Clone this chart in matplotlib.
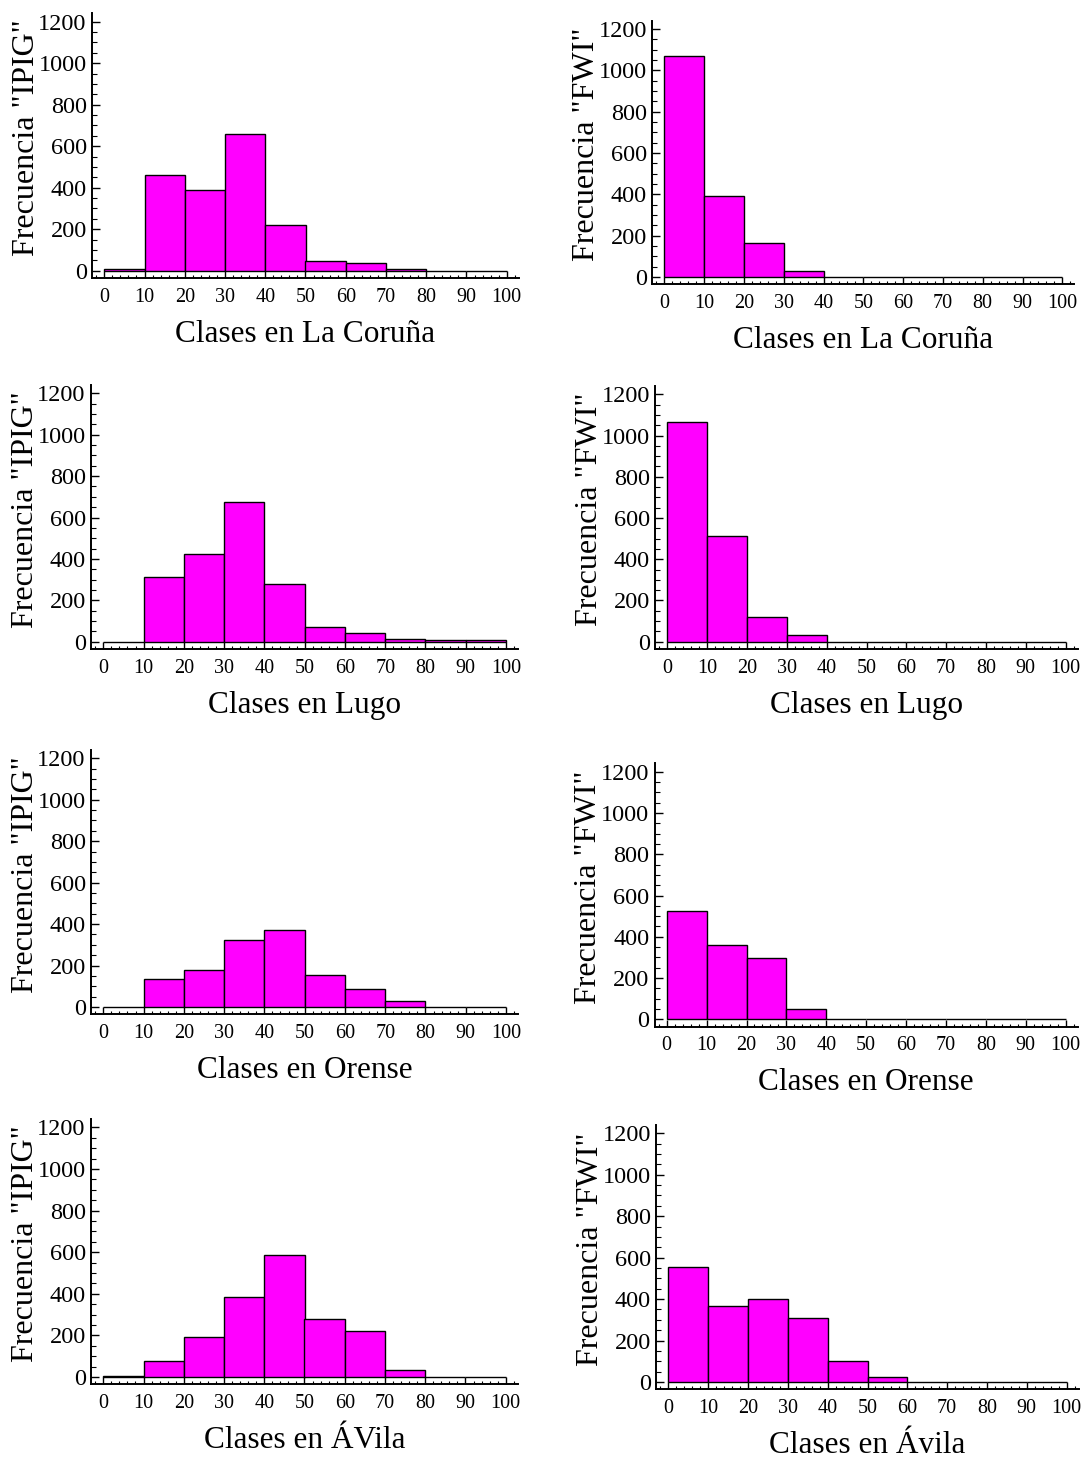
import numpy as np
import matplotlib.pyplot as plt
from matplotlib.ticker import MultipleLocator

plt.rcParams['font.family'] = 'Liberation Serif'

# ------------------------------
# Data: frequency per class (10 classes of width 10, 0..100)
# ------------------------------
bin_edges = np.arange(0, 101, 10)

ipig_coruna = [8, 461, 387, 660, 222, 48, 36, 10, 0, 0]
fwi_coruna = [1068, 390, 166, 30, 0, 0, 0, 0, 0, 0]

ipig_lugo = [0, 314, 424, 675, 280, 71, 40, 13, 8, 8]
fwi_lugo = [1067, 513, 120, 34, 0, 0, 0, 0, 0, 0]

ipig_orense = [0, 135, 179, 322, 372, 156, 85, 27, 0, 0]
fwi_orense = [527, 362, 296, 52, 0, 0, 0, 0, 0, 0]

ipig_avila = [6, 79, 192, 386, 587, 279, 221, 35, 0, 0]
fwi_avila = [557, 367, 402, 310, 103, 23, 0, 0, 0, 0]

places = ["La Coruña", "Lugo", "Orense", "ÁVila"]
places_fwi = ["La Coruña", "Lugo", "Orense", "Ávila"]
ipig_data = [ipig_coruna, ipig_lugo, ipig_orense, ipig_avila]
fwi_data = [fwi_coruna, fwi_lugo, fwi_orense, fwi_avila]

# ------------------------------
# Layout (pixel positions of x=0, x=100, y=0, y=1200 per panel)
# ------------------------------
W, H = 1088, 1461
left_panels = [
    (104.3, 506.7, 270.7, 21.7),
    (103.3, 506.0, 641.7, 393.3),
    (103.3, 506.0, 1007.0, 758.3),
    (103.3, 505.7, 1377.0, 1127.3),
]
right_panels = [
    (664.3, 1062.3, 277.0, 29.0),
    (667.3, 1065.7, 641.7, 394.3),
    (666.7, 1065.7, 1019.3, 771.7),
    (668.3, 1066.7, 1382.0, 1133.3),
]

X_LO, X_HI = -3, 103
Y_LO, Y_HI = -36, 1240
BAR_COLOR = '#ff00ff'

fig = plt.figure(figsize=(W / 100, H / 100), dpi=100)


def make_panel(px, values, ylabel, xlabel):
    x0, x100, y0, y1200 = px
    xs = (x100 - x0) / 100
    s = (y0 - y1200) / 1200
    left = x0 + X_LO * xs
    right = x100 + (X_HI - 100) * xs
    bottom = y0 - Y_LO * s
    top = y1200 - (Y_HI - 1200) * s
    ax = fig.add_axes([left / W, 1 - bottom / H, (right - left) / W, (bottom - top) / H])

    ax.bar(bin_edges[:-1], values, width=10, align='edge', color=BAR_COLOR,
           edgecolor='black', linewidth=1.0)

    ax.set_xlim(X_LO, X_HI)
    ax.set_ylim(Y_LO, Y_HI)
    for side in ['top', 'right']:
        ax.spines[side].set_visible(False)
    for side in ['left', 'bottom']:
        ax.spines[side].set_linewidth(1.4)

    ax.xaxis.set_minor_locator(MultipleLocator(2))
    ax.yaxis.set_minor_locator(MultipleLocator(50))
    ax.set_xticks(np.arange(0, 101, 10))
    ax.set_yticks(np.arange(0, 1201, 200))

    ax.tick_params(axis='x', which='major', direction='in', length=5, width=1,
                   labelsize=14.5, pad=7)
    ax.tick_params(axis='x', which='minor', direction='in', length=2.5, width=0.8)
    ax.tick_params(axis='y', which='major', direction='in', length=6, width=1,
                   labelsize=17.5, pad=4)
    ax.tick_params(axis='y', which='minor', direction='in', length=3.5, width=0.8)

    ax.set_xlabel(xlabel, fontsize=22.5)
    ax.xaxis.label.set_va('center')
    ax.xaxis.set_label_coords(0.5, -56 / (bottom - top))
    ax.set_ylabel(ylabel, fontsize=23)
    ax.yaxis.label.set_va('center')
    ax.yaxis.set_label_coords(-66 / (right - left), 0.53)
    return ax


for i in range(4):
    make_panel(left_panels[i], ipig_data[i], 'Frecuencia "IPIG"', f'Clases en {places[i]}')
    make_panel(right_panels[i], fwi_data[i], 'Frecuencia "FWI"', f'Clases en {places_fwi[i]}')

fig.savefig('out.png', dpi=100)
